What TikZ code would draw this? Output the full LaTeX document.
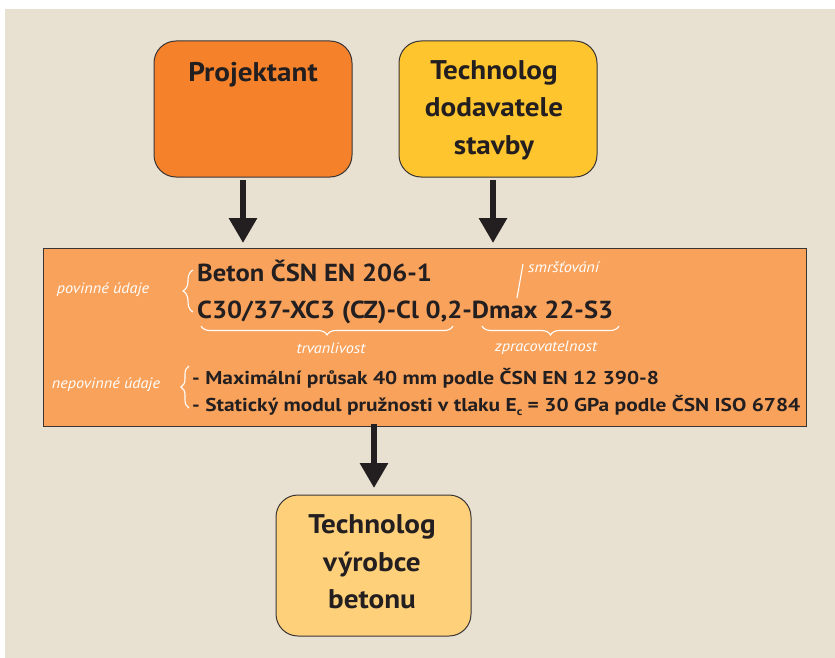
\documentclass[tikz,border=0pt]{standalone}
\usepackage{fontspec}
\setmainfont{PT Sans}[FakeStretch=1.08]
\newfontfamily\optfont{PT Sans}[FakeStretch=1.15]
\usetikzlibrary{arrows.meta,decorations.pathreplacing}
\definecolor{bgbeige}{HTML}{E8E1D2}
\definecolor{projcol}{HTML}{F5822A}
\definecolor{techcol}{HTML}{FFC52E}
\definecolor{maincol}{HTML}{F9A25B}
\definecolor{botcol}{HTML}{FFD07A}
\definecolor{ink}{HTML}{231F20}
\definecolor{edge}{HTML}{3A3535}
\tikzset{
  box/.style={draw=edge, line width=1pt, rounded corners=22pt, inner sep=0pt},
  title/.style={font=\fontsize{27}{27}\selectfont\bfseries, text=ink, anchor=base, inner sep=0pt},
  codeline/.style={font=\fontsize{24.6}{24.6}\selectfont\bfseries, text=ink, anchor=base west, inner sep=0pt},
  optline/.style={font=\optfont\fontsize{18.6}{18.6}\selectfont\bfseries, text=ink, anchor=base west, inner sep=0pt},
  note/.style={font=\fontsize{15}{15}\selectfont\itshape, text=white, inner sep=0pt},
  bigarrow/.style={draw=ink, line width=6pt, -{Triangle[width=27pt,length=25pt]}},
  wbrace/.style={draw=white, line width=1.1pt, decorate},
}
\begin{document}
\begin{tikzpicture}[x=1pt,y=-1pt]
\useasboundingbox (0,0) rectangle (835,658);
\fill[bgbeige] (5,9) rectangle (835,658);

% top boxes
\node[box, fill=projcol, minimum width=198pt, minimum height=136pt] (proj) at (253,109) {};
\node[title] (projt) at (253,82) {Projektant};
\node[box, fill=techcol, minimum width=198pt, minimum height=136pt] (tech) at (498,109) {};
\node[title] (techa) at (494,80) {Technolog};
\node[title] (techb) at (494,117) {dodavatele};
\node[title] (techc) at (494,154) {stavby};

% main box
\node[draw=edge, line width=0.8pt, fill=maincol, minimum width=763pt, minimum height=178pt, inner sep=0pt] (main) at (424.5,337) {};

% bottom box
\node[box, fill=botcol, minimum width=195pt, minimum height=141pt] (bot) at (373.5,565.5) {};
\node[title] (bota) at (372,533) {Technolog};
\node[title] (botb) at (372,571) {výrobce};
\node[title] (botc) at (372,608) {betonu};

% arrows
\coordinate (a1s) at (243,180);
\coordinate (a1e) at (243,243);
\coordinate (a2s) at (493,180);
\coordinate (a2e) at (493,243);
\coordinate (a3s) at (374,424);
\coordinate (a3e) at (374,488);
\draw[bigarrow] (a1s) -- (a1e);
\draw[bigarrow] (a2s) -- (a2e);
\draw[bigarrow] (a3s) -- (a3e);

% code lines
\node[codeline] (l1) at (197,281) {Beton ČSN EN 206-1};
\node[codeline] (l2) at (197,318) {C30/37-XC3 (CZ)-Cl 0,2-Dmax 22-S3};

% notes
\node[note] (pov) at (103,290) {povinné údaje};
\coordinate (b1a) at (193,312);
\coordinate (b1b) at (193,270);
\draw[wbrace, decoration={brace, amplitude=10pt}] (b1a) -- (b1b);

\node[note, anchor=west] (smr) at (528,267) {smršťování};
\coordinate (s1) at (523,264);
\coordinate (s2) at (517,298);
\draw[draw=white, line width=1.1pt] (s1) -- (s2);

\coordinate (u1a) at (453,326);
\coordinate (u1b) at (201,326);
\draw[wbrace, decoration={brace, amplitude=9pt}] (u1a) -- (u1b);
\node[note] (trv) at (331,348) {trvanlivost};

\coordinate (u2a) at (619,326);
\coordinate (u2b) at (482,326);
\draw[wbrace, decoration={brace, amplitude=9pt}] (u2a) -- (u2b);
\node[note] (zpr) at (546,348) {zpracovatelnost};

\node[note] (nep) at (106,385) {nepovinné údaje};
\coordinate (b2a) at (189,408);
\coordinate (b2b) at (189,366);
\draw[wbrace, decoration={brace, amplitude=8pt}] (b2a) -- (b2b);

\node[optline] (o1) at (192,384) {- Maximální průsak 40 mm podle ČSN EN 12 390-8};
\node[optline] (o2) at (192,411) {- Statický modul pružnosti v tlaku E\raisebox{-4pt}{\fontsize{11}{11}\selectfont c} = 30 GPa podle ČSN ISO 6784};
\end{tikzpicture}
\end{document}
